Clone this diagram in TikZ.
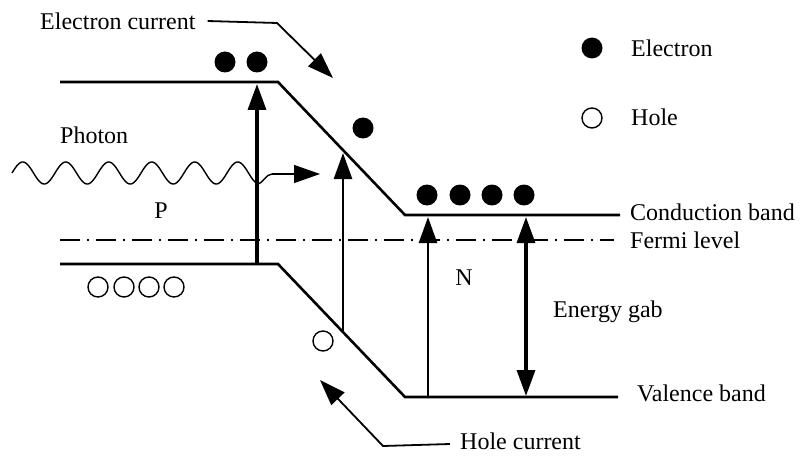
\documentclass[tikz,border=0pt]{standalone}
\usepackage{fontspec}
\setmainfont{Liberation Serif}
\usetikzlibrary{arrows.meta}
\begin{document}
\begin{tikzpicture}[x=1pt,y=-1pt,
  band/.style={line width=2.6pt},
  lbl/.style={font=\fontsize{24}{26}\selectfont, inner sep=0pt},
  electron/.style={circle, fill=black, minimum size=21pt, inner sep=0pt},
  hole/.style={circle, draw=black, line width=1.4pt, minimum size=20pt, inner sep=0pt},
  head/.style={Triangle[length=26pt,width=18pt]},
  vup/.style={line width=3.4pt, -{Triangle[length=26pt,width=18pt]}},
  vboth/.style={line width=3.4pt, {Triangle[length=26pt,width=18pt]}-{Triangle[length=26pt,width=18pt]}},
  thinarrow/.style={line width=1.8pt, -{Triangle[length=26pt,width=18pt]}},
  fermi/.style={line width=1.8pt, dash pattern=on 20pt off 7pt on 2pt off 7pt}
]
\useasboundingbox (0,0) rectangle (804,460);

% band corners
\coordinate (cb0) at (60,82);
\coordinate (cb1) at (278,82);
\coordinate (cb2) at (405,215);
\coordinate (cb3) at (620,215);
\coordinate (vb0) at (60,264);
\coordinate (vb1) at (278,264);
\coordinate (vb2) at (405,397);
\coordinate (vb3) at (618,397);
\coordinate (f0) at (60,240);
\coordinate (f1) at (614,240);

\draw[band, line join=miter] (cb0) -- (cb1) -- (cb2) -- (cb3);
\draw[band, line join=miter] (vb0) -- (vb1) -- (vb2) -- (vb3);
\draw[fermi] (f0) -- (f1);

% vertical transitions
\coordinate (a1b) at (257,264); \coordinate (a1t) at (257,84);
\coordinate (a2b) at (343,332); \coordinate (a2t) at (343,153);
\coordinate (a3b) at (428,397); \coordinate (a3t) at (428,217);
\coordinate (a4b) at (526,396); \coordinate (a4t) at (526,217);
\draw[vup] (a1b) -- (a1t);
\draw[vup, line width=2.6pt] (a2b) -- (a2t);
\draw[vup, line width=2.6pt] (a3b) -- (a3t);
\draw[vboth] (a4b) -- (a4t);

% photon
\draw[line width=1.4pt] plot[domain=12:257, samples=240] (\x, {173-11*sin((\x-12)*8.372)});
\coordinate (ph1) at (272,174);
\coordinate (ph2) at (320,174);
\draw[line width=1.4pt] (258,184) .. controls (262,184) and (266,174) .. (ph1);
\draw[thinarrow, line width=1.4pt] (ph1) -- (ph2);

% electrons
\node[electron] (e1) at (225,62) {};
\node[electron] (e2) at (257,62) {};
\node[electron] (e3) at (363,128) {};
\node[electron] (e4) at (427,195) {};
\node[electron] (e5) at (460,195) {};
\node[electron] (e6) at (492,195) {};
\node[electron] (e7) at (524,195) {};

% holes
\node[hole] (h1) at (98,287) {};
\node[hole] (h2) at (124,287) {};
\node[hole] (h3) at (149,287) {};
\node[hole] (h4) at (174,287) {};
\node[hole] (h5) at (323,341) {};

% legend
\node[electron] (le) at (592,48) {};
\node[lbl, anchor=west] (let) at (631,48) {Electron};
\node[hole] (lh) at (592,118) {};
\node[lbl, anchor=west] (lht) at (631,117) {Hole};

% labels
\node[lbl, anchor=west] (ec) at (40,21) {Electron current};
\coordinate (ec1) at (277,23);
\coordinate (ec2) at (333,78);
\draw[thinarrow] ([xshift=12pt]ec.east) -- (ec1) -- (ec2);

\node[lbl, anchor=west] (hc) at (460,441) {Hole current};
\coordinate (hc1) at (383,446);
\coordinate (hc2) at (320,380);
\draw[thinarrow] ([xshift=-10pt,yshift=-3pt]hc.west) -- (hc1) -- (hc2);

\node[lbl, anchor=west] (phl) at (60,135) {Photon};
\node[lbl] (pl) at (161,211) {P};
\node[lbl] (nl) at (464,278) {N};
\node[lbl, anchor=west] (cbl) at (630,212) {Conduction band};
\node[lbl, anchor=west] (fl) at (630,240) {Fermi level};
\node[lbl, anchor=west] (eg) at (553,312) {Energy gab};
\node[lbl, anchor=west] (vbl) at (637,393) {Valence band};
\end{tikzpicture}
\end{document}
